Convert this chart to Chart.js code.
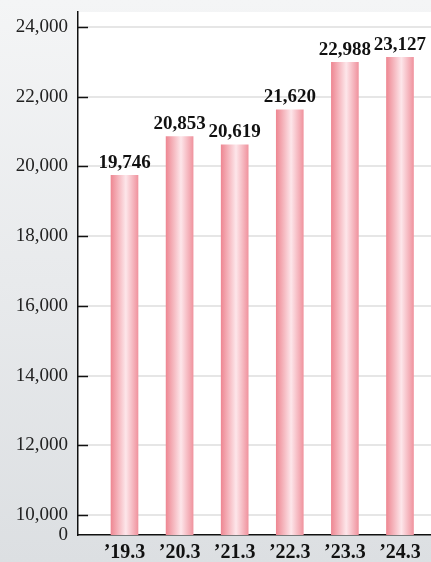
<!DOCTYPE html>
<html>
<head>
<meta charset="utf-8">
<script src="https://cdn.jsdelivr.net/npm/chart.js@4"></script>
<style>
    html, body { margin: 0; padding: 0; }
    body { width: 431px; height: 562px; background: linear-gradient(#f4f5f6, #dcdfe2); overflow: hidden; }
    #wrap { width: 431px; height: 562px; position: relative; }
</style>
</head>
<body>
<div id="wrap"><canvas id="salesChart"></canvas></div>
<script>
// Fiscal years (March year-end)
const yearLabels = ["\u201919.3", "\u201920.3", "\u201921.3", "\u201922.3", "\u201923.3", "\u201924.3"];
const salesValues = [19746, 20853, 20619, 21620, 22988, 23127];
const yTickValues = [10000, 12000, 14000, 16000, 18000, 20000, 22000, 24000];

// broken axis: the bottom of the scale reads as 0
const Y_MIN = 9426;
const Y_MAX = 24430;

const SERIF = "'Liberation Serif', 'DejaVu Serif', serif";

// white plot area over the grey page
const plotBackground = {
    id: 'plotBackground',
    beforeDraw(chart) {
        const { ctx, chartArea: a } = chart;
        ctx.save();
        ctx.fillStyle = '#ffffff';
        ctx.fillRect(a.left, a.top, a.right - a.left, a.bottom - a.top);
        ctx.restore();
    }
};

// short black tick marks on the inside of the y axis
const innerTicks = {
    id: 'innerTicks',
    afterDraw(chart) {
        const { ctx, chartArea: a, scales } = chart;
        ctx.save();
        ctx.strokeStyle = '#111';
        ctx.lineWidth = 1.5;
        yTickValues.forEach(v => {
            const y = Math.round(scales.y.getPixelForValue(v)) + 0.5;
            ctx.beginPath();
            ctx.moveTo(a.left, y);
            ctx.lineTo(a.left + 10, y);
            ctx.stroke();
        });
        ctx.restore();
    }
};

// value labels above each bar
const valueLabels = {
    id: 'valueLabels',
    afterDatasetsDraw(chart) {
        const { ctx } = chart;
        const meta = chart.getDatasetMeta(0);
        ctx.save();
        ctx.font = 'bold 19px ' + SERIF;
        ctx.fillStyle = '#111';
        ctx.textAlign = 'center';
        ctx.textBaseline = 'bottom';
        meta.data.forEach((bar, i) => {
            ctx.fillText(salesValues[i].toLocaleString('en-US'), bar.x, bar.y - 3);
        });
        ctx.restore();
    }
};

function barGradient(context) {
    const chart = context.chart;
    const xs = chart.scales.x;
    if (!chart.chartArea || !xs) return '#f2a3ad';
    const cx = xs.getPixelForValue(context.dataIndex);
    const g = chart.ctx.createLinearGradient(cx - 13.5, 0, cx + 13.5, 0);
    g.addColorStop(0, '#ee8893');
    g.addColorStop(0.55, '#fde6ea');
    g.addColorStop(1, '#f0949f');
    return g;
}

new Chart(document.getElementById('salesChart'), {
    type: 'bar',
    data: {
        datasets: [{
            data: salesValues.map((v, i) => ({ x: i, y: v })),
            backgroundColor: barGradient,
            borderWidth: 0,
            barThickness: 27
        }]
    },
    options: {
        responsive: true,
        maintainAspectRatio: false,
        animation: false,
        layout: { padding: { top: 12, right: 0, left: 0, bottom: 0 } },
        plugins: {
            legend: { display: false },
            tooltip: { enabled: false }
        },
        scales: {
            x: {
                type: 'linear',
                offset: false,
                min: -0.844,
                max: 5.563,
                afterBuildTicks(scale) {
                    scale.ticks = yearLabels.map((_, i) => ({ value: i }));
                },
                afterFit(scale) {
                    scale.height = 27;
                    scale.paddingLeft = 0;
                    scale.paddingRight = 0;
                },
                grid: { display: false, drawTicks: false, offset: false },
                border: { display: true, color: '#111', width: 1.5 },
                ticks: {
                    color: '#111',
                    padding: 6,
                    font: { family: SERIF, size: 20, weight: 'bold' },
                    callback: v => yearLabels[v]
                }
            },
            y: {
                min: Y_MIN,
                max: Y_MAX,
                afterBuildTicks(scale) {
                    scale.ticks = [{ value: Y_MIN }].concat(yTickValues.map(v => ({ value: v })));
                },
                afterFit(scale) {
                    scale.width = 78;
                    scale.paddingTop = 0;
                    scale.paddingBottom = 0;
                },
                grid: {
                    drawTicks: false,
                    lineWidth: 2,
                    color: ctx => (ctx.tick && ctx.tick.value === Y_MIN) ? 'rgba(0,0,0,0)' : '#e6e6e6'
                },
                border: { display: true, color: '#111', width: 1.5 },
                ticks: {
                    color: '#222',
                    padding: 10,
                    font: { family: SERIF, size: 19 },
                    callback: v => v === Y_MIN ? '0' : v.toLocaleString('en-US')
                }
            }
        }
    },
    plugins: [plotBackground, innerTicks, valueLabels]
});
</script>
</body>
</html>
